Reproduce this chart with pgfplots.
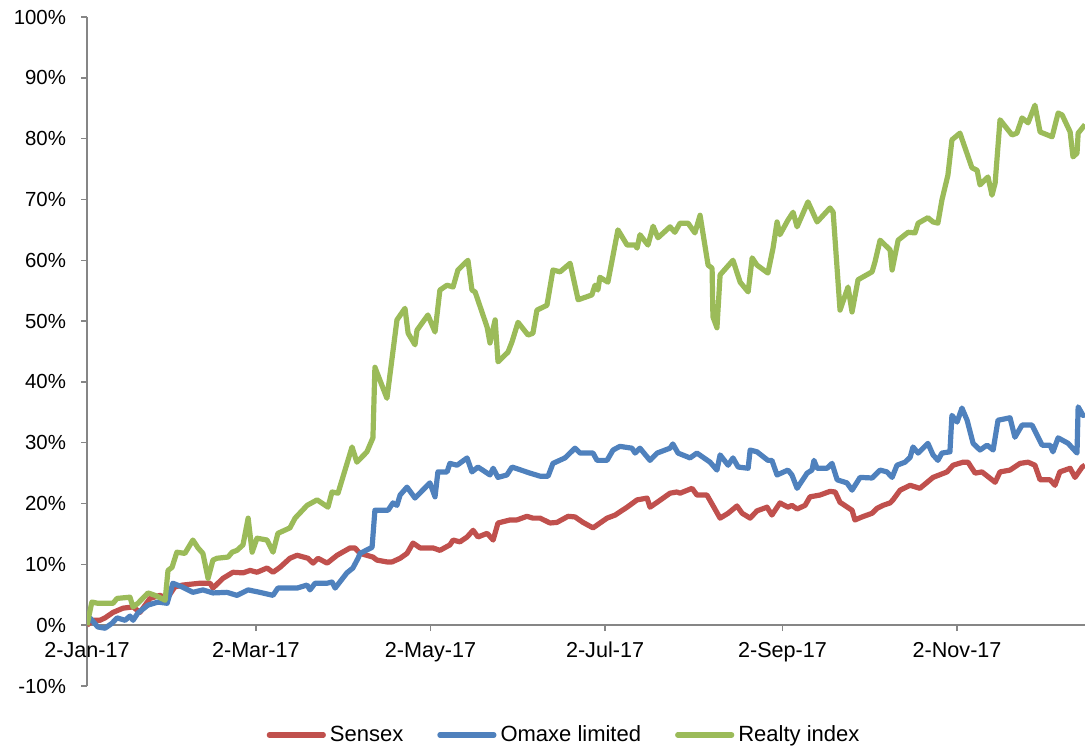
\documentclass[border=0pt]{standalone}
\usepackage{fontspec}
\setmainfont{Liberation Sans}
\usepackage{pgfplots}
\pgfplotsset{compat=1.18}
\definecolor{sensexred}{HTML}{C0504D}
\definecolor{omaxeblue}{HTML}{4F81BD}
\definecolor{realtygreen}{HTML}{9BBB59}
\definecolor{axisgray}{HTML}{868686}

% x = calendar days from 2-Jan-17, y = cumulative return in %
\pgfplotstableread{
x y
0 0
2.1 0.8
4.5 0.8
6.3 1.2
9.1 2.1
12.6 2.8
16.1 3.0
18.5 2.1
22.0 4.4
25.5 4.9
28.0 4.4
30.7 6.3
33.5 6.6
39.5 6.9
43.0 6.9
44.0 6.1
47.5 7.7
51.0 8.7
54.5 8.6
57.0 9.0
59.4 8.7
62.9 9.4
65.0 8.7
67.4 9.5
70.9 11.0
73.4 11.5
77.2 11.0
79.0 10.2
80.7 11.0
83.9 10.2
87.4 11.5
91.9 12.7
93.6 12.7
95.4 11.8
99.9 11.2
101.3 10.7
104.8 10.4
106.6 10.4
109.4 11.0
111.8 11.8
113.9 13.5
116.4 12.7
120.9 12.7
123.3 12.3
126.8 13.2
127.9 14.0
130.3 13.7
132.8 14.5
134.9 15.6
136.6 14.5
139.8 15.1
141.9 14.0
143.6 16.8
147.8 17.3
150.2 17.3
153.7 17.9
155.8 17.6
158.3 17.6
161.8 16.8
164.2 16.9
168.1 17.9
170.5 17.8
173.3 16.9
176.8 16.0
181.7 17.6
184.5 18.1
188.7 19.4
192.2 20.6
195.7 20.9
196.7 19.4
199.2 20.2
203.7 21.7
206.1 21.9
207.2 21.7
211.4 22.5
213.1 21.4
216.6 21.4
221.2 17.6
224.0 18.4
227.1 19.6
228.9 18.4
231.7 17.6
234.1 18.8
237.6 19.4
239.3 18.1
242.1 20.1
244.9 19.4
246.3 19.7
248.1 19.1
250.9 19.7
252.6 21.1
256.1 21.4
259.6 22.0
261.4 21.9
263.1 20.2
267.3 18.9
268.3 17.3
270.8 17.8
274.3 18.4
276.0 19.2
278.1 19.7
280.6 20.1
281.6 20.6
284.1 22.2
287.6 23.0
291.0 22.5
295.6 24.3
300.5 25.2
302.6 26.3
306.1 26.8
307.8 26.8
310.3 25.0
312.7 25.2
317.3 23.5
319.0 25.2
322.5 25.5
326.0 26.6
328.8 26.8
331.2 26.3
333.0 23.9
336.5 23.9
338.2 23.0
339.9 25.2
343.5 25.8
345.2 24.3
347.7 26.0
348.7 26.3
}\sensex

\pgfplotstableread{
x y
0 0.3
1.0 1.2
3.8 -0.3
6.3 -0.5
8.7 0.3
10.5 1.2
13.3 0.8
15.0 1.5
16.1 0.8
17.8 2.0
21.3 3.3
24.8 3.8
28.0 3.6
30.0 6.9
33.2 6.3
35.3 5.8
37.0 5.4
40.5 5.8
44.0 5.3
48.9 5.4
52.4 4.9
56.3 5.8
60.4 5.4
65.0 4.9
66.7 6.1
73.4 6.1
76.9 6.6
77.9 5.8
79.7 6.9
83.9 6.9
85.6 7.1
86.7 6.1
90.8 8.6
92.9 9.4
94.7 11.0
95.4 11.8
99.6 12.8
100.6 18.9
105.2 18.9
106.9 20.1
108.3 19.7
109.4 21.4
111.8 22.7
114.6 20.9
119.8 23.4
121.6 21.1
122.6 25.2
125.8 25.2
126.8 26.6
129.3 26.3
132.8 27.5
134.5 25.2
136.6 26.0
140.8 24.7
141.9 25.8
143.6 24.3
146.7 24.7
148.5 26.0
154.8 25.0
158.3 24.5
161.1 24.5
162.8 26.6
167.0 27.5
170.5 29.1
172.3 28.3
176.8 28.3
178.2 27.1
181.7 27.1
183.8 28.8
186.2 29.4
190.4 29.1
191.5 28.3
193.2 29.1
196.7 27.1
199.2 28.3
203.7 29.1
204.7 29.8
206.5 28.3
210.7 27.5
213.1 28.3
217.7 26.8
220.1 25.5
221.2 28.0
224.0 26.3
225.7 27.5
227.5 26.0
231.0 25.8
231.7 28.8
234.1 28.5
237.9 27.1
239.3 27.1
241.1 24.7
244.9 25.5
246.3 24.7
248.1 22.5
251.6 25.0
253.3 25.5
254.0 27.1
255.1 25.8
258.6 25.8
260.3 26.6
262.1 23.9
265.5 23.4
267.3 22.2
270.1 24.3
274.3 24.2
277.1 25.5
279.5 25.2
281.3 24.3
283.0 26.3
285.8 26.8
287.6 27.6
288.6 29.3
290.4 28.3
293.8 29.9
295.6 28.0
297.3 27.1
298.7 28.3
301.5 28.5
302.2 34.5
304.0 33.4
305.7 35.7
307.5 33.7
309.6 29.9
312.0 28.8
314.5 29.6
316.6 28.8
318.3 33.7
322.5 34.1
324.2 30.9
326.7 32.9
330.2 32.9
333.7 29.6
336.5 29.6
337.5 28.5
339.3 30.8
342.8 29.9
345.9 28.3
346.3 35.9
348.0 34.5
348.7 34.6
}\omaxe

\pgfplotstableread{
x y
0 0
1.7 3.8
3.8 3.6
6.3 3.6
9.1 3.6
10.5 4.4
15.0 4.6
16.1 3.0
17.8 3.6
21.3 5.3
23.8 4.9
27.3 4.1
28.3 9.0
29.7 9.5
31.4 12.0
34.2 11.8
37.0 14.0
38.8 12.7
40.5 11.8
42.3 7.7
44.0 10.7
45.4 11.0
49.3 11.2
50.7 12.0
52.4 12.3
54.5 13.2
56.3 17.6
57.7 12.0
59.4 14.3
62.9 14.0
65.0 12.0
66.7 15.1
70.9 16.0
72.7 17.6
76.9 19.7
80.4 20.6
84.2 19.4
85.6 21.9
87.7 21.7
92.6 29.3
94.3 26.8
97.8 28.5
99.9 30.8
100.6 42.4
104.8 37.3
108.3 50.2
111.1 52.1
112.2 48.0
114.6 46.1
115.3 48.5
119.1 51.0
121.6 48.2
123.3 55.1
125.8 55.9
127.9 55.6
129.6 58.4
133.1 60.0
134.5 55.1
135.6 54.8
139.8 49.0
140.8 46.4
142.6 50.2
143.6 43.3
147.1 44.9
148.5 46.6
150.6 49.8
154.1 47.7
155.8 48.0
157.2 51.8
160.7 52.6
162.8 58.4
165.3 58.1
168.8 59.5
171.6 53.5
176.4 54.3
177.5 55.9
178.5 55.1
179.2 57.2
182.0 56.4
185.5 65.0
188.7 62.5
191.5 62.5
192.2 62.0
193.2 64.2
196.0 62.5
197.8 65.6
199.5 63.7
203.7 65.5
205.4 64.6
207.2 66.1
210.0 66.1
212.4 64.5
214.2 67.4
217.0 59.2
218.4 58.7
218.7 50.7
220.1 48.9
221.2 57.6
225.7 60.0
228.2 56.4
231.0 54.8
232.4 60.4
234.1 59.2
237.9 57.9
239.7 62.0
241.1 66.3
242.1 64.2
244.9 66.6
246.7 67.9
248.1 65.5
251.9 69.6
255.1 66.3
259.6 68.6
260.7 67.9
263.1 51.8
265.9 55.6
267.3 51.5
269.4 56.8
274.3 58.1
275.3 59.7
277.1 63.3
280.6 61.7
281.3 58.4
283.4 63.3
286.9 64.6
289.3 64.5
290.4 66.1
293.8 67.0
295.6 66.3
297.3 66.1
298.7 69.9
300.8 74.0
302.2 79.8
305.0 80.9
309.2 75.2
311.0 74.8
312.0 72.4
314.8 73.7
316.2 70.7
317.3 72.7
319.0 83.1
323.2 80.6
324.9 80.9
326.7 83.4
328.8 82.6
331.2 85.5
333.0 81.1
337.2 80.3
339.3 84.2
340.7 83.9
343.5 81.1
344.5 77.0
345.9 77.6
346.3 80.9
348.7 82.3
}\realty

\begin{document}
\begin{tikzpicture}
\begin{axis}[
    at={(43.5pt,31pt)}, anchor=south west,
    scale only axis,
    width=499pt, height=334.5pt,
    xmin=0, xmax=348.7,
    ymin=-10, ymax=100,
    axis x line=middle,
    axis y line=left,
    axis line style={draw=axisgray, line width=0.75pt, -},
    tick style={draw=axisgray, line width=0.75pt},
    tick align=outside,
    major tick length=3pt,
    xtick={59,120,181,243,304},
    xticklabels={2-Mar-17, 2-May-17, 2-Jul-17, 2-Sep-17, 2-Nov-17},
    extra x ticks={0},
    extra x tick labels={2-Jan-17},
    extra x tick style={tick style={draw=none}},
    ytick={-10,0,10,20,30,40,50,60,70,80,90,100},
    yticklabels={-10\%,0\%,10\%,20\%,30\%,40\%,50\%,60\%,70\%,80\%,90\%,100\%},
    minor tick num=0,
    xticklabel style={font=\fontsize{10.8}{12}\selectfont, text=black, yshift=-2pt},
    yticklabel style={font=\fontsize{10.2}{12}\selectfont, text=black, xshift=-4pt},
    legend columns=3,
    legend style={
        at={(0.479,-0.0732)}, anchor=center,
        draw=none, fill=none,
        font=\fontsize{11}{13}\selectfont,
        /tikz/every even column/.append style={column sep=15pt},
    },
    legend cell align=left,
    legend image code/.code={
        \draw[#1, line cap=round] (0pt,0pt) -- (27pt,0pt);
    },
    every axis plot/.append style={line width=2.6pt, line join=round, no markers},
]
\addplot[sensexred] table[x=x, y=y] {\sensex};
\addplot[omaxeblue] table[x=x, y=y] {\omaxe};
\addplot[realtygreen] table[x=x, y=y] {\realty};
\legend{Sensex, Omaxe limited, Realty index}
\end{axis}
\pgfresetboundingbox
\path[use as bounding box] (0,0) rectangle (542.5pt,374pt);
\end{tikzpicture}
\end{document}
